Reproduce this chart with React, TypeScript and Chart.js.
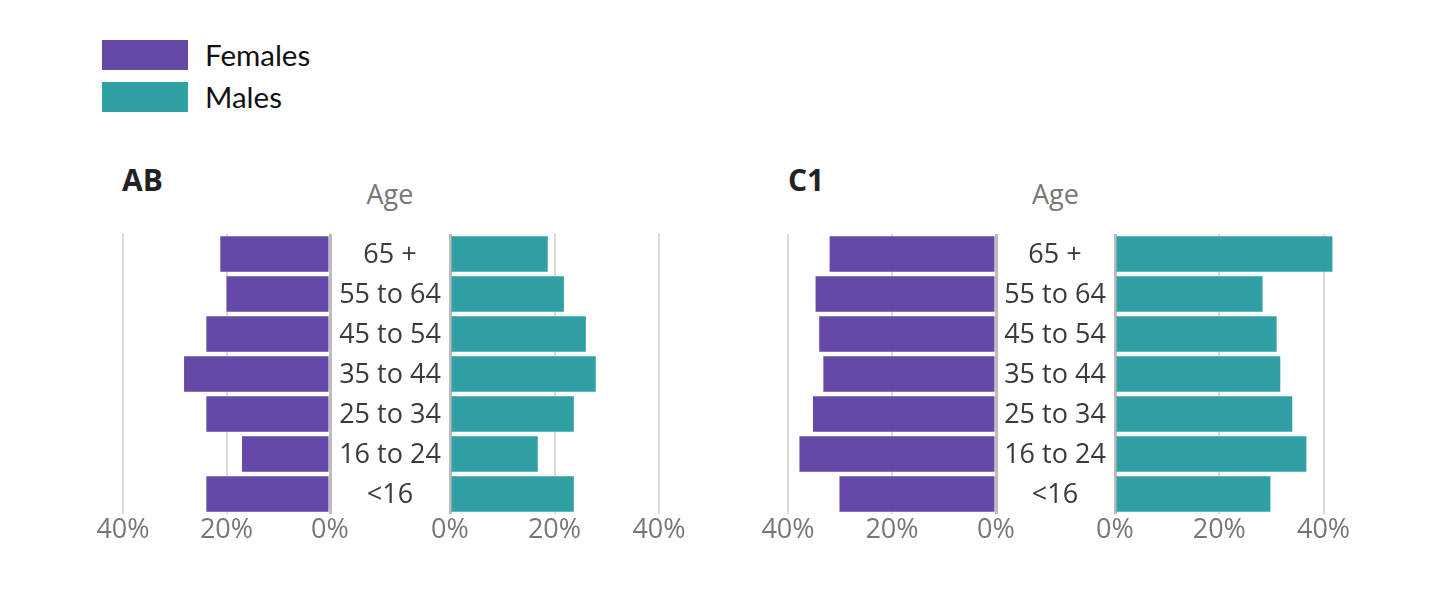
import React, { useEffect, useRef } from "react";
import { Chart, registerables } from "chart.js";

Chart.register(...registerables);

const ageGroups = ["65 +", "55 to 64", "45 to 54", "35 to 44", "25 to 34", "16 to 24", "<16"];
const abFemales = [21.2, 20.0, 23.9, 28.2, 23.9, 17.0, 23.9];
const abMales = [18.7, 21.8, 26.0, 27.9, 23.7, 16.8, 23.7];
const c1Females = [32.0, 34.7, 34.0, 33.2, 35.2, 37.8, 30.1];
const c1Males = [41.7, 28.3, 31.0, 31.7, 34.0, 36.7, 29.8];
const tickValues = [0, 20, 40];
const seriesNames = ["Females", "Males"];
const seriesColors = ["#6649a6", "#2fa0a3"];
const panelTitles = ["AB", "C1"];
const axisTitle = "Age";

const FONT = '"Open Sans", "Noto Sans", sans-serif';

const ageLabelPlugin = {
  id: "ageLabels",
  afterDraw(chart: any) {
    const { ctx, chartArea, scales } = chart;
    const y = scales.y;
    const labels: string[] = y.getLabels();
    ctx.save();
    ctx.font = `27px ${FONT}`;
    ctx.fillStyle = "#3a3a3a";
    ctx.textAlign = "center";
    ctx.textBaseline = "middle";
    labels.forEach((label, i) => {
      ctx.fillText(label, chartArea.left - 60, y.getPixelForValue(i) + 1.5);
    });
    ctx.restore();
  },
};

type HalfProps = {
  values: number[];
  series: number;
  max: number;
  left: number;
  width: number;
  female: boolean;
};

function HalfChart({ values, series, max, left, width, female }: HalfProps) {
  const ref = useRef<HTMLCanvasElement | null>(null);
  useEffect(() => {
    if (!ref.current) return;
    const chart = new Chart(ref.current, {
      type: "bar",
      data: {
        labels: ageGroups,
        datasets: [
          {
            label: seriesNames[series],
            data: values,
            backgroundColor: seriesColors[series],
            borderWidth: 0,
            barPercentage: 0.89,
            categoryPercentage: 1,
          },
        ],
      },
      options: {
        animation: false,
        responsive: false,
        indexAxis: "y",
        layout: {
          padding: { left: female ? 40 : 130, right: 40, top: 10, bottom: 0 },
        },
        plugins: {
          legend: { display: false },
          tooltip: { enabled: false },
        },
        scales: {
          x: {
            type: "linear",
            min: 0,
            max,
            reverse: female,
            position: "bottom",
            afterBuildTicks: (s: any) => {
              s.ticks = tickValues.map((v) => ({ value: v }));
            },
            afterFit: (s: any) => {
              s.height = 50;
            },
            grid: {
              drawTicks: false,
              color: (c: any) => (c.tick && c.tick.value === 0 ? "#bcbcbc" : "#dadada"),
              lineWidth: (c: any) => (c.tick && c.tick.value === 0 ? 3 : 2),
            },
            border: { display: false },
            ticks: {
              padding: 0,
              color: "#777777",
              font: { family: FONT, size: 27 },
              maxRotation: 0,
              autoSkip: false,
              callback: (v: any) => `${v}%`,
            },
          },
          y: {
            type: "category",
            display: false,
            offset: true,
            grid: { display: false },
          },
        },
      } as any,
      plugins: female ? [] : [ageLabelPlugin],
    });
    return () => chart.destroy();
  }, [values, series, max, female]);
  return (
    <canvas
      ref={ref}
      width={width}
      height={340}
      style={{ position: "absolute", left, top: 224, width, height: 340 }}
    />
  );
}

function Panel({
  title,
  titleLeft,
  ageLeft,
  ageWidth,
}: {
  title: string;
  titleLeft: number;
  ageLeft: number;
  ageWidth: number;
}) {
  return (
    <>
      <div
        style={{
          position: "absolute",
          left: titleLeft,
          top: 165,
          font: `bold 30px ${FONT}`,
          lineHeight: "30px",
          color: "#222222",
          whiteSpace: "nowrap",
        }}
      >
        {title}
      </div>
      <div
        style={{
          position: "absolute",
          left: ageLeft,
          width: ageWidth,
          top: 180,
          textAlign: "center",
          font: `27px ${FONT}`,
          lineHeight: "27px",
          color: "#777777",
        }}
      >
        {axisTitle}
      </div>
    </>
  );
}

export default function App() {
  return (
    <div
      style={{
        position: "absolute",
        left: 0,
        top: 0,
        width: 1456,
        height: 608,
        background: "#ffffff",
        overflow: "hidden",
      }}
    >
      {seriesNames.map((name, i) => (
        <div key={name}>
          <div
            style={{
              position: "absolute",
              left: 102,
              top: 40 + i * 42,
              width: 86,
              height: 30,
              background: seriesColors[i],
            }}
          />
          <div
            style={{
              position: "absolute",
              left: 205,
              top: 40 + i * 42,
              font: `29.5px Lato, ${FONT}`,
              lineHeight: "30px",
              color: "#111111",
              whiteSpace: "nowrap",
            }}
          >
            {name}
          </div>
        </div>
      ))}

      <Panel title={panelTitles[0]} titleLeft={122} ageLeft={330} ageWidth={120} />
      <Panel title={panelTitles[1]} titleLeft={788} ageLeft={996} ageWidth={119} />

      <HalfChart values={abFemales} series={0} max={40} left={83} width={287} female={true} />
      <HalfChart values={abMales} series={1} max={40} left={320} width={379} female={false} />
      <HalfChart values={c1Females} series={0} max={40} left={748} width={288} female={true} />
      <HalfChart values={c1Males} series={1} max={42} left={985} width={389} female={false} />
    </div>
  );
}
